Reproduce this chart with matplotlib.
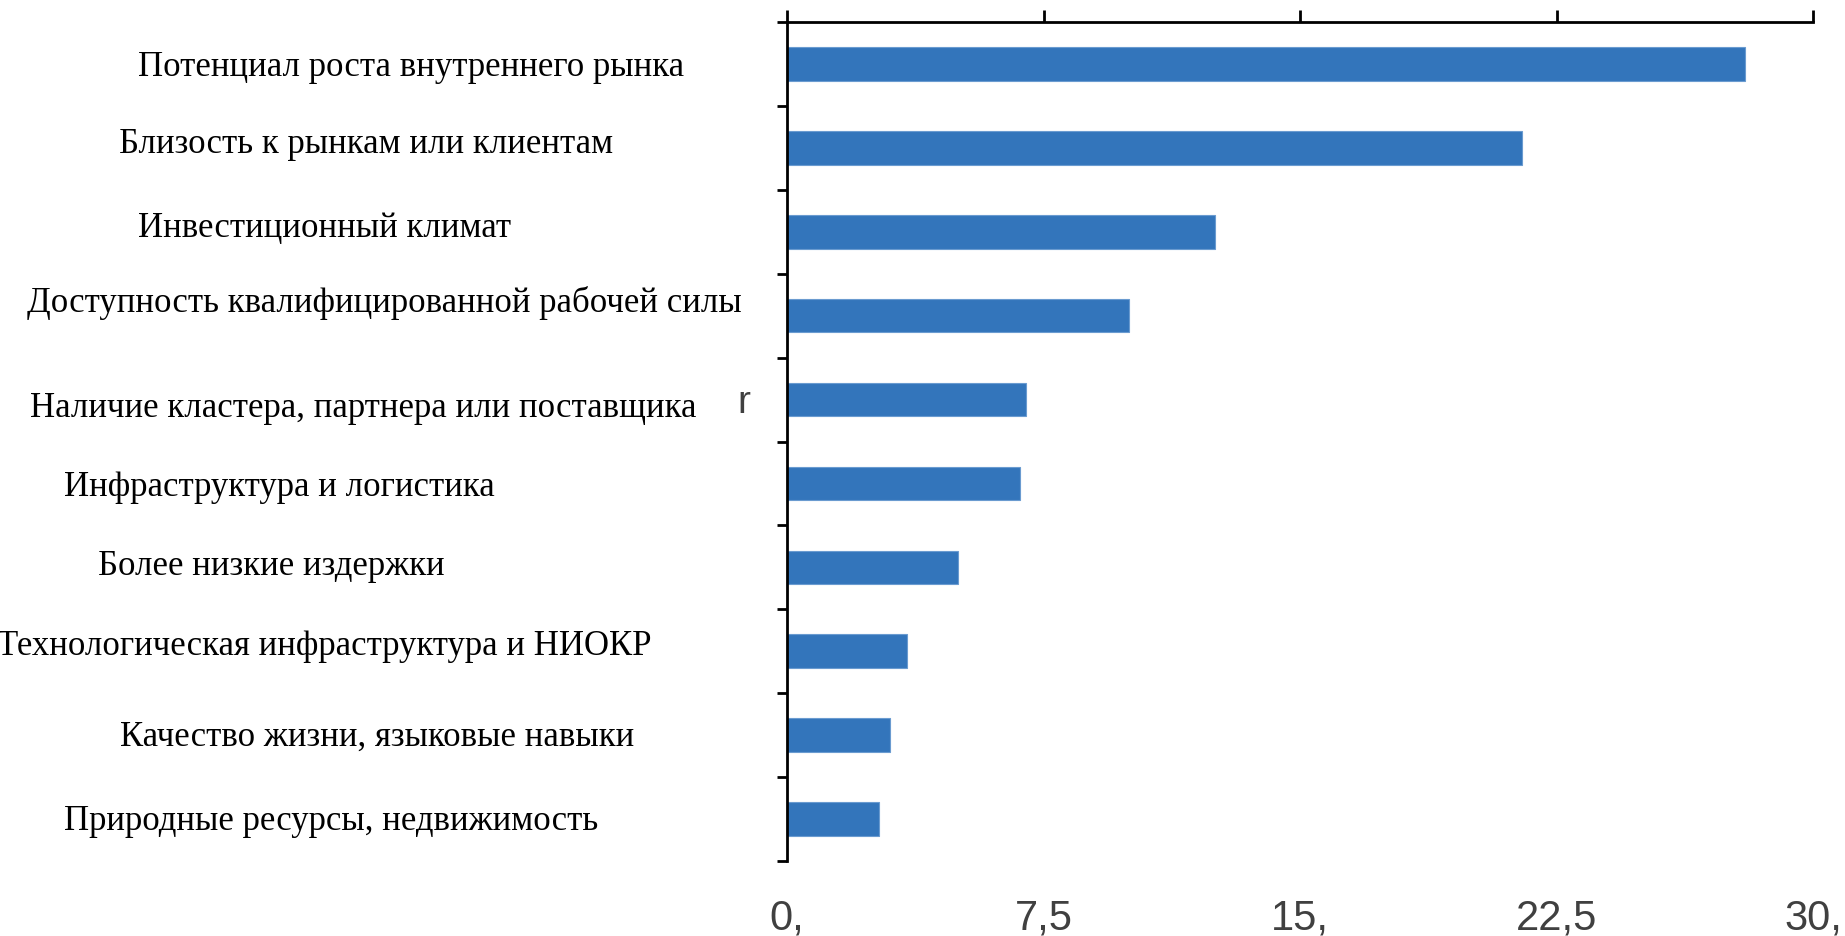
import numpy as np
import matplotlib
matplotlib.use("Agg")
import matplotlib.pyplot as plt
import matplotlib.transforms as mtransforms

# ---- data ----
categories = [
    "Потенциал роста внутреннего рынка",
    "Близость к рынкам или клиентам",
    "Инвестиционный климат",
    "Доступность квалифицированной рабочей силы",
    "Наличие кластера, партнера или поставщика",
    "Инфраструктура и логистика",
    "Более низкие издержки",
    "Технологическая инфраструктура и НИОКР",
    "Качество жизни, языковые навыки",
    "Природные ресурсы, недвижимость",
]
values = [28.0, 21.5, 12.5, 10.0, 7.0, 6.8, 5.0, 3.5, 3.0, 2.7]
xticks = [0, 7.5, 15, 22.5, 30]
xtick_labels = ["0,", "7,5", "15,", "22,5", "30,"]

# ---- layout (pixels in the 1845x937 figure) ----
W, H = 1845, 937
label_left_px = [138, 119, 138, 27, 30, 64, 98, -3, 120, 64]
label_dy_px = [0, -7, -7, -16, 5, 0, -5, -9, -2, -2]  # cap-centre offset from bar centre

fig = plt.figure(figsize=(W / 100, H / 100), dpi=100)
ax = fig.add_axes([787 / W, 1 - 862 / H, (1813 - 787) / W, (862 - 23) / H])

n = len(categories)
y = np.arange(n)
ax.barh(y, values, height=0.4, color="#3375bb", edgecolor="#6a9bd0", linewidth=0.8)
ax.set_xlim(0, 30)
ax.set_ylim(n - 0.5, -0.5)

for s in ["right", "bottom"]:
    ax.spines[s].set_visible(False)
for s in ["left", "top"]:
    ax.spines[s].set_linewidth(2)
    ax.spines[s].set_color("black")

ax.set_yticks(np.arange(-0.5, n, 1))
ax.set_yticklabels([])
ax.tick_params(axis="y", direction="out", length=7, width=2, color="black")

ax.set_xticks(xticks)
ax.set_xticklabels(xtick_labels)
ax.tick_params(axis="x", top=True, bottom=False, labeltop=False, labelbottom=True,
               direction="out", length=9, width=2, color="black",
               labelsize=30, labelcolor="#404040", pad=17)
for t in ax.get_xticklabels():
    t.set_fontfamily("Liberation Sans")

# category labels
fs = 25
cap_half = 0.662 * fs * 100 / 72 / 2
blend = mtransforms.blended_transform_factory(fig.transFigure, ax.transData)
for i, (lab, lx, dy) in enumerate(zip(categories, label_left_px, label_dy_px)):
    tr = mtransforms.offset_copy(blend, fig=fig, x=0, y=-(dy + cap_half), units="dots")
    ax.text(lx / W, i, lab, transform=tr, ha="left", va="baseline",
            fontsize=fs, fontfamily="Liberation Serif", color="black", clip_on=False)

# stray glyph left of the axis
fig.text(737 / W, 1 - 413 / H, "r", ha="left", va="baseline", fontsize=28,
         fontfamily="Liberation Sans", color="#404040")

fig.savefig("out.png", dpi=100)
